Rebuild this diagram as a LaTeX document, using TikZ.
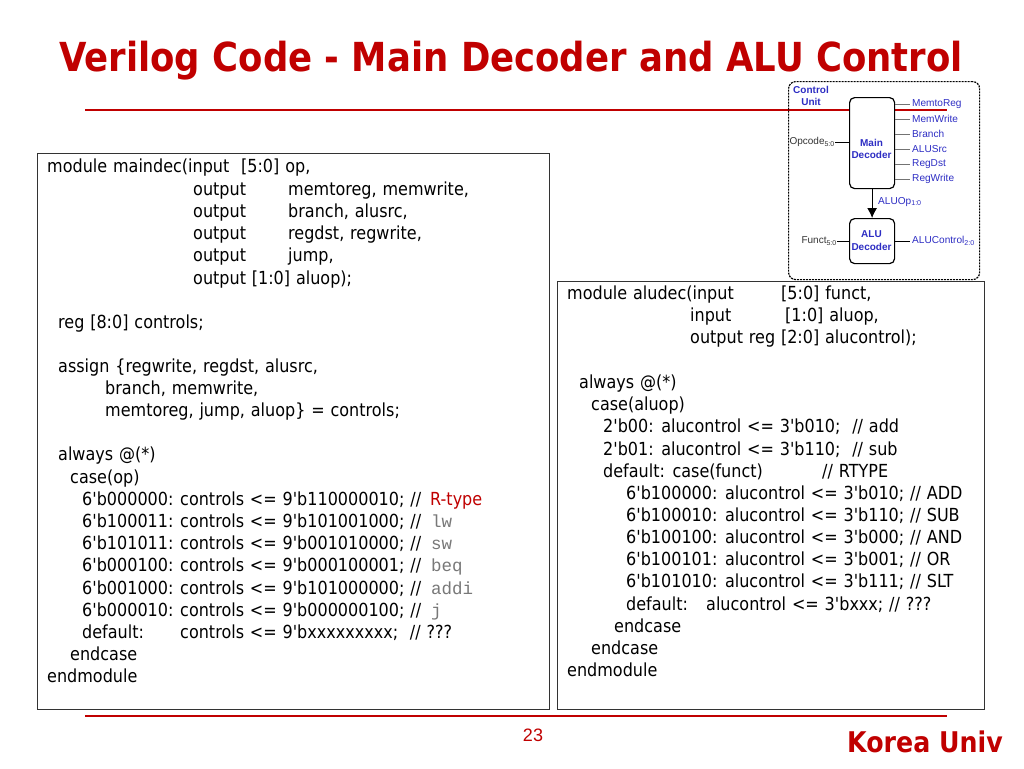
\documentclass[tikz,border=0pt]{standalone}
\usepackage{fontspec}
\setmainfont{Liberation Sans}
\newfontfamily\codefont[FakeStretch=0.89,WordSpace=1.15]{DejaVu Sans}
\newfontfamily\monofont{Liberation Mono}
\newfontfamily\titlefont[FakeStretch=0.887]{DejaVu Sans}
\definecolor{slidered}{RGB}{192,0,0}
\definecolor{wireblue}{RGB}{45,45,195}
\definecolor{commentgray}{RGB}{120,120,120}
\usetikzlibrary{arrows.meta}

\begin{document}
\begin{tikzpicture}[x=1pt,y=-1pt]

%
% Styles
%
\tikzstyle{code} = [anchor=base west,inner sep=0pt,font=\codefont\fontsize{18}{20}\selectfont]
\tikzstyle{keyw} = [anchor=base west,inner sep=0pt,text=commentgray,font=\monofont\fontsize{17.5}{20}\selectfont]
\tikzstyle{codebox} = [rectangle,draw=black!80,fill=white,line width=0.8pt,anchor=north west,inner sep=0pt]
\tikzstyle{decoder} = [rectangle,draw=black,fill=white,rounded corners=5pt,line width=1.2pt,anchor=north west,inner sep=0pt]
\tikzstyle{declabel} = [align=center,text=wireblue,inner sep=0pt,font=\fontsize{10}{12.5}\selectfont\bfseries]
\tikzstyle{signal} = [anchor=west,inner sep=0pt,inner xsep=2pt,text=wireblue,font=\fontsize{10.1}{11}\selectfont]
\tikzstyle{input} = [anchor=east,inner sep=0pt,text=black!80,font=\fontsize{10}{11}\selectfont]
\tikzstyle{rule} = [draw=slidered,line width=1.6pt]

\useasboundingbox (0,0) rectangle (1024,768);

% title and rules
\node[anchor=base,inner sep=0pt,text=slidered,font=\titlefont\fontsize{40}{44}\selectfont\bfseries] (title) at (511,71) {Verilog Code - Main Decoder and ALU Control};
\coordinate (topl) at (85,110);
\coordinate (topr) at (947,110);
\coordinate (botl) at (85,716);
\coordinate (botr) at (947,716);
\draw[rule] (topl) -- (topr);
\draw[rule] (botl) -- (botr);
\node[inner sep=0pt,text=slidered,font=\fontsize{18}{20}\selectfont] (page) at (533,735) {23};
\node[anchor=base east,inner sep=0pt,text=slidered,font=\titlefont\fontsize{28.5}{30}\selectfont\bfseries] (univ) at (1003,752) {Korea Univ};

% control unit
\node[draw=black,dash pattern=on 2pt off 1pt,line width=1.2pt,rounded corners=7pt,minimum width=191pt,minimum height=198pt,anchor=north west,inner sep=0pt] (unit) at (788,81) {};
\node[decoder,minimum width=45pt,minimum height=91pt] (main) at (849,97) {};
\node[decoder,minimum width=45pt,minimum height=45pt] (alu) at (849,218) {};
\node[declabel] (mainlbl) at (871.5,149) {Main\\Decoder};
\node[declabel] (alulbl) at (871.5,240.5) {ALU\\Decoder};
\node[declabel] (ctl) at (811,96) {Control\\Unit};
\foreach \sig/\ypos in {MemtoReg/104,MemWrite/119,Branch/134,ALUSrc/149,RegDst/164,RegWrite/179}
{
  \node[signal] (\sig) at (910,\ypos) {\sig};
  \draw[black!55] (main.east |- \sig) -- (\sig);
}
\node[signal] (aluctl) at (910,241) {ALUControl\textsubscript{2:0}};
\node[signal] (aluop) at (876,202) {ALUOp\textsubscript{1:0}};
\node[input] (opcode) at (835,142) {Opcode\textsubscript{5:0}};
\node[input] (funct) at (837,241) {Funct\textsubscript{5:0}};
\draw[line width=0.8pt] (opcode) -- (main.west |- opcode);
\draw[line width=0.8pt] (funct) -- (alu.west |- funct);
\draw[line width=0.8pt] (alu.east |- aluctl) -- (aluctl);
\draw[-{Latex[length=10pt,width=10pt]},line width=1.1pt] (main) -- (alu);

% main decoder code
\node[codebox,minimum width=511.5pt,minimum height=555.5pt] (mbox) at (37,153) {};
\node[code] (m1) at (47,172) {module maindec(input\ \ [5:0] op,};
\node[code] (m2) at (193,195) {output};
\node[code] (m2b) at (288,195) {memtoreg, memwrite,};
\node[code] (m3) at (193,217) {output};
\node[code] (m3b) at (288,217) {branch, alusrc,};
\node[code] (m4) at (193,239) {output};
\node[code] (m4b) at (288,239) {regdst, regwrite,};
\node[code] (m5) at (193,261) {output};
\node[code] (m5b) at (288,261) {jump,};
\node[code] (m6) at (193,284) {output [1:0] aluop);};
\node[code] (m7) at (58,328) {reg [8:0] controls;};
\node[code] (m8) at (58,372) {assign \{regwrite, regdst, alusrc,};
\node[code] (m9) at (105,394) {branch, memwrite,};
\node[code] (m10) at (105,416) {memtoreg, jump, aluop\} = controls;};
\node[code] (m11) at (58,460) {always @(*)};
\node[code] (m12) at (70,483) {case(op)};
\node[code] (m13) at (82,505) {6'b000000:};
\node[code] (m13b) at (180,505) {controls <= 9'b110000010; //};
\node[code,text=slidered] (m13c) at (430,505) {R-type};
\node[code] (m14) at (82,527) {6'b100011:};
\node[code] (m14b) at (180,527) {controls <= 9'b101001000; //};
\node[keyw] (m14c) at (431,527) {lw};
\node[code] (m15) at (82,549) {6'b101011:};
\node[code] (m15b) at (180,549) {controls <= 9'b001010000; //};
\node[keyw] (m15c) at (431,549) {sw};
\node[code] (m16) at (82,571) {6'b000100:};
\node[code] (m16b) at (180,571) {controls <= 9'b000100001; //};
\node[keyw] (m16c) at (431,571) {beq};
\node[code] (m17) at (82,594) {6'b001000:};
\node[code] (m17b) at (180,594) {controls <= 9'b101000000; //};
\node[keyw] (m17c) at (431,594) {addi};
\node[code] (m18) at (82,616) {6'b000010:};
\node[code] (m18b) at (180,616) {controls <= 9'b000000100; //};
\node[keyw] (m18c) at (431,616) {j};
\node[code] (m19) at (82,638) {default:};
\node[code] (m19b) at (180,638) {controls <= 9'bxxxxxxxxx;\ \ // ???};
\node[code] (m20) at (70,660) {endcase};
\node[code] (m21) at (47,682) {endmodule};

% alu decoder code
\node[codebox,minimum width=426.5pt,minimum height=427.5pt] (abox) at (557,281) {};
\node[code] (a1) at (567,299) {module aludec(input};
\node[code] (a1b) at (781,299) {[5:0] funct,};
\node[code] (a2) at (690,321) {input};
\node[code] (a2b) at (785,321) {[1:0] aluop,};
\node[code] (a3) at (690,343) {output reg [2:0] alucontrol);};
\node[code] (a4) at (579,388) {always @(*)};
\node[code] (a5) at (591,410) {case(aluop)};
\node[code] (a6) at (603,432) {2'b00: alucontrol <= 3'b010;\ \ // add};
\node[code] (a7) at (603,455) {2'b01: alucontrol <= 3'b110;\ \ // sub};
\node[code] (a8) at (603,477) {default: case(funct)};
\node[code] (a8b) at (822,477) {// RTYPE};
\node[code] (a9) at (626,499) {6'b100000: alucontrol <= 3'b010; // ADD};
\node[code] (a10) at (626,521) {6'b100010: alucontrol <= 3'b110; // SUB};
\node[code] (a11) at (626,543) {6'b100100: alucontrol <= 3'b000; // AND};
\node[code] (a12) at (626,565) {6'b100101: alucontrol <= 3'b001; // OR};
\node[code] (a13) at (626,587) {6'b101010: alucontrol <= 3'b111; // SLT};
\node[code] (a14) at (626,610) {default:};
\node[code] (a14b) at (706,610) {alucontrol <= 3'bxxx; // ???};
\node[code] (a15) at (614,632) {endcase};
\node[code] (a16) at (591,654) {endcase};
\node[code] (a17) at (567,676) {endmodule};

\end{tikzpicture}
\end{document}
